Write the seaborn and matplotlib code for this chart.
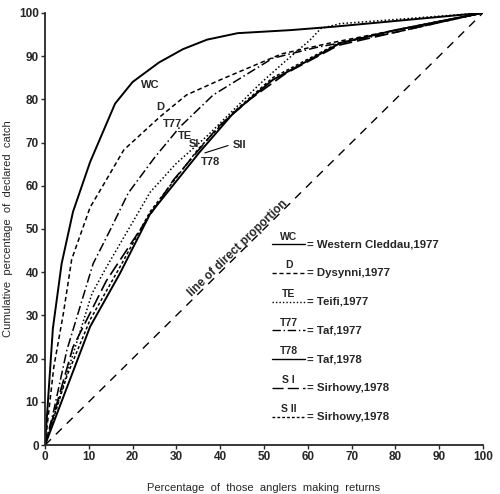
import matplotlib
matplotlib.use("Agg")
import matplotlib.pyplot as plt
import seaborn as sns
import pandas as pd

# ===================== data =====================
wc_x = [0, 1.8, 3.8, 6.4, 10.3, 16, 20, 26, 31.5, 37, 44, 56, 66, 100]
wc_y = [0, 27, 42, 54, 65.5, 79, 84, 88.5, 91.6, 93.8, 95.3, 96, 96.8, 100]

d_x = [0, 2, 4.2, 6.1, 10.3, 13.5, 18, 26.3, 32.3, 40, 54, 65, 80, 100]
d_y = [0, 18, 30.5, 43, 55, 60.5, 68.3, 76, 81, 84.5, 90.5, 93, 96, 100]

te_x = [0, 3, 6.4, 10.7, 14.1, 19.4, 24, 30, 37, 43, 49, 54.4, 60.5, 63, 67.4, 100]
te_y = [0, 10, 21, 35, 41.3, 50.5, 58.5, 65.2, 71.5, 77.5, 83.5, 88.4, 93.7, 96.4, 97.5, 100]

t77_x = [0, 2, 5, 8, 11, 15, 19, 25, 30.8, 38.4, 52, 62, 80, 100]
t77_y = [0, 8, 22, 32, 42, 50, 58.3, 66.5, 73.6, 81, 89.5, 92, 95.5, 100]

t78_x = [0, 10.3, 17.1, 24, 35.4, 43, 52, 67.4, 80, 100]
t78_y = [0, 27.4, 39.7, 53.5, 67.9, 76.8, 84.5, 93, 96, 100]

s1_x = [0, 6.4, 14, 21.7, 29.3, 39.5, 46.8, 55, 67, 80, 100]
s1_y = [0, 22.7, 38, 49.8, 61.3, 73.6, 80, 86, 92.5, 95.5, 100]

s2_x = [0, 5, 10.3, 17, 24, 35, 43, 52, 67, 80, 100]
s2_y = [0, 16, 29, 41, 54, 68.5, 77, 85, 93, 96, 100]

codes = ["WC", "D", "TE", "T77", "T78", "S I", "S II"]
rivers = ["Western Cleddau,1977", "Dysynni,1977", "Teifi,1977", "Taf,1977",
          "Taf,1978", "Sirhowy,1978", "Sirhowy,1978"]

series = [(wc_x, wc_y), (d_x, d_y), (te_x, te_y), (t77_x, t77_y),
          (t78_x, t78_y), (s1_x, s1_y), (s2_x, s2_y)]
dash_styles = ["", (3, 2), (1, 1.5), (6, 2, 1, 2), "", (8, 3), (2, 1.5)]
widths = [1.4, 1.1, 1.1, 1.1, 1.4, 1.2, 1.1]

# ===================== plot =====================
sns.set_style("ticks")
plt.rcParams["font.family"] = ["Liberation Sans", "DejaVu Sans"]

fig = plt.figure(figsize=(5, 4.94), dpi=100)
ax = fig.add_axes([0.09, 0.099, 0.876, 0.875])

for (xs, ys), ds, lw in zip(series, dash_styles, widths):
    df = pd.DataFrame({"x": xs, "y": ys})
    sns.lineplot(data=df, x="x", y="y", ax=ax, color="black", lw=lw,
                 sort=False, estimator=None)
    if ds != "":
        ax.lines[-1].set_dashes(ds)

# line of direct proportion
diag = pd.DataFrame({"x": [0, 100], "y": [0, 100]})
sns.lineplot(data=diag, x="x", y="y", ax=ax, color="black", lw=1.0, estimator=None)
ax.lines[-1].set_dashes((6, 5))
ax.text(44.6, 44.9, "line of direct proportion", rotation=44, rotation_mode="anchor",
        ha="center", va="baseline", fontsize=8.5, fontweight="bold")

# curve labels
lab_kw = dict(fontsize=8, fontweight="bold", ha="center", va="center")
ax.text(24, 83.3, "WC", **lab_kw)
ax.text(26.3, 78.2, "D", **lab_kw)
ax.text(29, 74.3, "T77", **lab_kw)
ax.text(32, 71.5, "TE", **lab_kw)
ax.text(34, 69.7, "SI", **lab_kw)
ax.text(44.5, 69.4, "SII", **lab_kw)
ax.text(37.7, 65.5, "T78", **lab_kw)
ax.plot([36.5, 41.8], [67.6, 69.3], color="black", lw=0.8)

# hand-drawn legend
for i, (code, river, ds) in enumerate(zip(codes, rivers, dash_styles)):
    yy = 46.5 - 6.65 * i
    ln, = ax.plot([51.8, 59.4], [yy, yy], color="black", lw=1.0)
    if ds != "":
        ln.set_dashes(ds)
    ax.text(55.6, yy + 0.6, code, fontsize=7.5, fontweight="bold",
            ha="center", va="bottom")
    ax.text(59.8, yy, "= " + river, fontsize=8.2, fontweight="bold",
            ha="left", va="center")

ax.set_xlim(0, 100)
ax.set_ylim(0, 100)
ax.set_xticks(range(0, 101, 10))
ax.set_yticks(range(0, 101, 10))
ax.tick_params(labelsize=8.5, length=3, width=1, pad=1.5)
for t in ax.get_xticklabels() + ax.get_yticklabels():
    t.set_fontweight("bold")
sns.despine(ax=ax)
ax.spines["left"].set_linewidth(1.3)
ax.spines["bottom"].set_linewidth(1.3)

ax.set_xlabel("Percentage  of  those  anglers  making  returns", fontsize=8, labelpad=14)
ax.set_ylabel("Cumulative  percentage  of  declared  catch", fontsize=8, labelpad=4)

fig.savefig("out.png", dpi=100)
